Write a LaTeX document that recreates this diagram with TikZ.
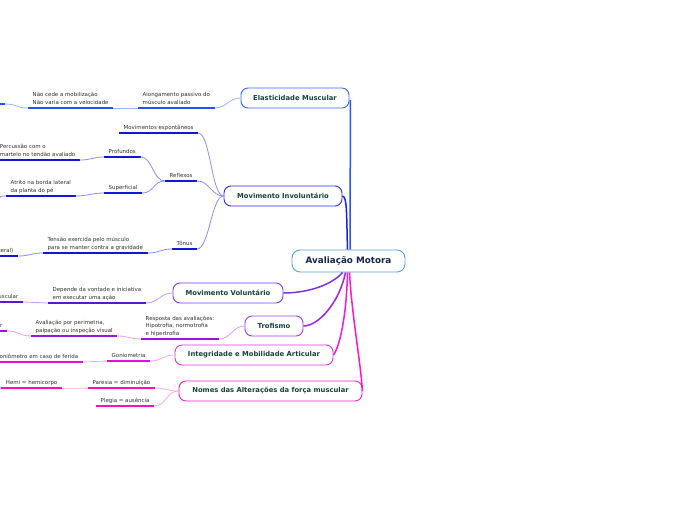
\documentclass[tikz,border=0pt]{standalone}
\usepackage{fontspec}
\setmainfont{DejaVu Sans}
\usetikzlibrary{calc}
\definecolor{txt}{HTML}{2E2E2E}
\definecolor{boxtxt}{HTML}{14443A}
\definecolor{centxt}{HTML}{14244F}
\definecolor{cenb}{HTML}{5A9FD6}
\definecolor{cAb}{HTML}{3366FF}\definecolor{cAm}{HTML}{2255FF}\definecolor{cAl}{HTML}{99B3FF}\definecolor{cAu}{HTML}{1F55F0}
\definecolor{cBb}{HTML}{2B2BEF}\definecolor{cBm}{HTML}{1F1FE8}\definecolor{cBl}{HTML}{8C8CFF}\definecolor{cBu}{HTML}{1515D8}
\definecolor{cCb}{HTML}{7B3CF0}\definecolor{cCm}{HTML}{7733EE}\definecolor{cCl}{HTML}{C39BFF}\definecolor{cCu}{HTML}{5A14DC}
\definecolor{cDb}{HTML}{A33CF0}\definecolor{cDm}{HTML}{A024E6}\definecolor{cDl}{HTML}{D9A0F5}\definecolor{cDu}{HTML}{9A14E0}
\definecolor{cEb}{HTML}{E62EE6}\definecolor{cEm}{HTML}{E81EE0}\definecolor{cEl}{HTML}{F5A6F0}\definecolor{cEu}{HTML}{E010D8}
\definecolor{cFb}{HTML}{FF1FC4}\definecolor{cFm}{HTML}{FF18C0}\definecolor{cFl}{HTML}{FFA6E0}\definecolor{cFu}{HTML}{FF10B8}
\begin{document}
\begin{tikzpicture}[x=1pt,y=-1pt,
  topic/.style={draw, rounded corners=7pt, line width=0.9pt, fill=white,
    font=\bfseries\fontsize{6.8}{7.5}\selectfont, text=boxtxt, minimum height=20pt, inner sep=0pt},
  central/.style={draw=cenb, rounded corners=8pt, line width=0.9pt, fill=white,
    font=\bfseries\fontsize{8.8}{10}\selectfont, text=centxt, minimum height=22pt, minimum width=113pt, inner sep=0pt},
  leaf/.style={inner xsep=4.5pt, inner ysep=2.2pt, font=\fontsize{5.45}{7.5}\selectfont,
    text=txt, align=left, text depth=1.2pt},
  lw/.style={leaf, anchor=south west},
  le/.style={leaf, anchor=south east},
  ul/.style={line width=1.3pt, draw=#1},
  lk/.style={line width=0.8pt, draw=#1, to path={.. controls +(-12,0) and +(12,0) .. (\tikztotarget)}},
  mainln/.style={line width=1.5pt, draw=#1}]
\useasboundingbox (0,0) rectangle (696,520);

% topics
\node[central] (cen) at (348.5,261) {Avaliação Motora};
\node[topic, draw=cAb, minimum width=108pt] (el) at (295,98) {Elasticidade Muscular};
\node[topic, draw=cBb, minimum width=118pt] (inv) at (283,196) {Movimento Involuntário};
\node[topic, draw=cCb, minimum width=110pt] (vol) at (228,293) {Movimento Voluntário};
\node[topic, draw=cDb, minimum width=58pt] (tro) at (274,326) {Trofismo};
\node[topic, draw=cEb, minimum width=158pt] (int) at (254,355) {Integridade e Mobilidade Articular};
\node[topic, draw=cFb, minimum width=183pt] (nom) at (270.5,391) {Nomes das Alterações da força muscular};

% main connectors
\draw[mainln=cAm] ($(cen.north)+(1.5,0)$) -- ($(el.east)+(1,2)$);
\draw[mainln=cBm] (inv.east) .. controls +(5,0) and +(-1,-30) .. ($(cen.north)+(-1,0)$);
\draw[mainln=cCm] ($(cen.south)+(-6,0)$) .. controls +(-10,12) and +(25,0) .. (vol.east);
\draw[mainln=cDm] ($(cen.south)+(-3,0)$) .. controls +(-6,30) and +(15,0) .. (tro.east);
\draw[mainln=cEm] ($(cen.south)+(-1,0)$) .. controls +(-1,45) and +(6,-8) .. (int.east);
\draw[mainln=cFm] ($(cen.south)+(1,0)$) .. controls +(2,40) and +(-2,-30) .. (nom.east);

% Elasticidade
\node[lw] (el1) at (138,108) {Alongamento passivo do\\músculo avaliado};
\node[lw] (el2) at (28,108) {Não cede a mobilização\\Não varia com a velocidade};
\coordinate (el3) at (5,104);
\coordinate (el3a) at (-5,104);
\foreach \n in {el1,el2} \draw[ul=cAu] (\n.south west) -- (\n.south east);
\draw[ul=cAu] (el3a) -- (el3);
\draw[lk=cAl] (el.west) to (el1.south east);
\draw[lk=cAl] (el1.south west) to (el2.south east);
\draw[lk=cAl] (el2.south west) to (el3);

% Movimento Involuntario
\node[lw] (esp) at (119,133) {Movimentos espontâneos};
\node[lw] (ref) at (165,181) {Reflexos};
\node[lw] (ton) at (172,249) {Tônus};
\node[lw] (pro) at (104,157) {Profundos};
\node[lw] (sup) at (104,193) {Superficial};
\node[le] (per) at (80,160) {Percussão com o\\martelo no tendão avaliado};
\node[lw] (atr) at (6,196) {Atrito na borda lateral\\da planta do pé};
\coordinate (atr2) at (-6,199);
\node[lw] (ten) at (43,253) {Tensão exercida pelo músculo\\para se manter contra a gravidade};
\node[le] (ter) at (18,256) {teral)};
\foreach \n in {esp,ref,ton,pro,sup,per,atr,ten,ter} \draw[ul=cBu] (\n.south west) -- (\n.south east);
\draw[lk=cBl] (inv.west) to (esp.south east);
\draw[lk=cBl] (inv.west) to (ref.south east);
\draw[lk=cBl] (inv.west) to (ton.south east);
\draw[lk=cBl] (ref.south west) to (pro.south east);
\draw[lk=cBl] (ref.south west) to (sup.south east);
\draw[lk=cBl] (pro.south west) to (per.south east);
\draw[lk=cBl] (sup.south west) to (atr.south east);
\draw[lk=cBl] (atr.south west) to (atr2);
\draw[lk=cBl] (ton.south west) to (ten.south east);
\draw[lk=cBl] (ten.south west) to (ter.south east);

% Movimento Voluntario
\node[lw] (dep) at (48,303) {Depende da vontade e iniciativa\\em executar uma ação};
\node[le] (usc) at (23,302) {uscular};
\foreach \n in {dep,usc} \draw[ul=cCu] (\n.south west) -- (\n.south east);
\draw[lk=cCl] (vol.west) to (dep.south east);
\draw[lk=cCl] (dep.south west) to (usc.south east);

% Trofismo
\node[lw] (res) at (141,339) {Resposta das avaliações:\\Hipotrofia, normotrofia\\e hipertrofia};
\node[lw] (ava) at (31,336) {Avaliação por perimetria,\\palpação ou inspeção visual};
\node[le] (rr) at (7,331) {r};
\foreach \n in {res,ava,rr} \draw[ul=cDu] (\n.south west) -- (\n.south east);
\draw[lk=cDl] (tro.west) to (res.south east);
\draw[lk=cDl] (res.south west) to (ava.south east);
\draw[lk=cDl] (ava.south west) to (rr.south east);

% Integridade
\node[lw] (gon) at (107,361) {Goniometria};
\node[le] (gon2) at (83,362) {oniômetro em caso de ferida};
\foreach \n in {gon,gon2} \draw[ul=cEu] (\n.south west) -- (\n.south east);
\draw[lk=cEl] (int.west) to (gon.south east);
\draw[lk=cEl] (gon.south west) to (gon2.south east);

% Nomes
\node[lw] (par) at (88,388) {Paresia = diminuição};
\node[lw] (ple) at (96,406) {Plegia = ausência};
\node[le] (hem) at (62,388) {Hemi = hemicorpo};
\foreach \n in {par,ple,hem} \draw[ul=cFu] (\n.south west) -- (\n.south east);
\draw[lk=cFl] (nom.west) to (par.south east);
\draw[lk=cFl] (nom.west) to (ple.south east);
\draw[lk=cFl] (par.south west) to (hem.south east);
\end{tikzpicture}
\end{document}
